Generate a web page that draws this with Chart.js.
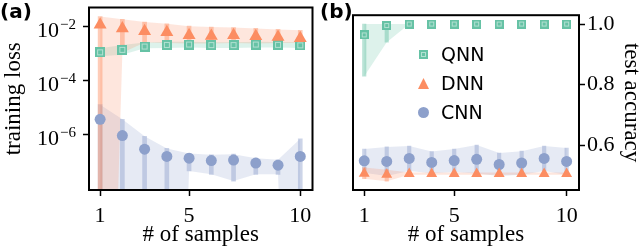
<!DOCTYPE html>
<html>
<head>
<meta charset="utf-8">
<script src="https://cdn.jsdelivr.net/npm/chart.js@4.4.1/dist/chart.umd.min.js"></script>
<style>
  body { margin: 0; background: #fff; }
  #wrap { position: relative; width: 640px; height: 249px; overflow: hidden; }
  canvas { position: absolute; top: 0; }
  #ca { left: 0; }
  #cb { left: 320px; }
  .tag { position: absolute; top: -1px; font: bold 20px "DejaVu Sans"; line-height: 24px; color: #000; }
  #legend { position: absolute; left: 413px; top: 40px; font: 19px "DejaVu Sans"; color: #000; }
  #legend div { height: 29px; line-height: 29px; position: relative; padding-left: 28px; }
  #legend canvas { position: absolute; left: 0; top: 4px; }
</style>
</head>
<body>
<div id="wrap">
  <canvas id="ca" width="320" height="249"></canvas>
  <canvas id="cb" width="320" height="249"></canvas>
  <div class="tag" style="left:0px">(a)</div>
  <div class="tag" style="left:320px">(b)</div>
  <div id="legend"></div>
</div>
<script>
// x positions and ticks
const samples = [1, 2, 3, 4, 5, 6, 7, 8, 9, 10];
const xTicks = [1, 5, 10];
const lossTicks = [1e-6, 1e-4, 1e-2];
const accTicks = [0.6, 0.8, 1.0];
const seriesNames = ['QNN', 'DNN', 'CNN'];

// (a) training loss, mean and band (1e-30 = band runs below the axis)
const qnnLoss     = [1.13e-3, 1.4e-3, 1.86e-3, 2.13e-3, 2.2e-3, 2.1e-3, 2.1e-3, 2.2e-3, 2.15e-3, 2.05e-3];
const qnnLossLow  = [8.1e-4, 9.3e-4, 1.6e-3, 1.65e-3, 1.7e-3, 1.65e-3, 1.65e-3, 1.7e-3, 1.7e-3, 1.65e-3];
const qnnLossHigh = [1.6e-3, 2.1e-3, 2.6e-3, 2.8e-3, 2.8e-3, 2.7e-3, 2.7e-3, 2.8e-3, 2.75e-3, 2.7e-3];

const dnnLoss     = [0.012, 0.0086, 0.0069, 0.0063, 0.0049, 0.0046, 0.0049, 0.0045, 0.0042, 0.0038];
const dnnLossLow  = [1e-30, 1.1e-3, 2.6e-3, 2.5e-3, 2.4e-3, 2.4e-3, 2.5e-3, 2.4e-3, 2.5e-3, 2.5e-3];
const dnnLossHigh = [0.024, 0.019, 0.015, 0.013, 0.0106, 0.0098, 0.0094, 0.0087, 0.0080, 0.0074];

const cnnLoss     = [3.7e-6, 9.3e-7, 2.9e-7, 1.56e-7, 1.35e-7, 1.1e-7, 1.15e-7, 8.9e-8, 7.4e-8, 1.56e-7];
const cnnLossLow  = [1e-30, 1e-30, 1e-30, 1e-30, 4.5e-8, 3.4e-8, 1.9e-8, 3.4e-8, 3.4e-8, 1e-30];
const cnnLossHigh = [1.3e-5, 3.7e-6, 8.7e-7, 3.1e-7, 2.0e-7, 1.8e-7, 1.9e-7, 1.35e-7, 1.17e-7, 7.1e-7];

// (b) test accuracy
const qnnAcc     = [0.964, 0.995, 1.0, 1.0, 1.0, 1.0, 1.0, 1.0, 1.0, 1.0];
const qnnAccLow  = [0.828, 0.94, 1.0, 1.0, 1.0, 1.0, 1.0, 1.0, 1.0, 1.0];
const qnnAccHigh = [1.0, 1.0, 1.0, 1.0, 1.0, 1.0, 1.0, 1.0, 1.0, 1.0];

const dnnAcc     = [0.507, 0.504, 0.506, 0.506, 0.506, 0.506, 0.506, 0.506, 0.506, 0.506];
const dnnAccLow  = [0.49, 0.482, 0.503, 0.503, 0.503, 0.503, 0.503, 0.503, 0.503, 0.503];
const dnnAccHigh = [0.527, 0.52, 0.511, 0.511, 0.511, 0.511, 0.511, 0.511, 0.511, 0.511];

const cnnAcc     = [0.549, 0.547, 0.557, 0.544, 0.550, 0.554, 0.537, 0.542, 0.557, 0.547];
const cnnAccLow  = [0.510, 0.499, 0.516, 0.508, 0.512, 0.507, 0.499, 0.503, 0.516, 0.503];
const cnnAccHigh = [0.588, 0.595, 0.598, 0.580, 0.588, 0.601, 0.575, 0.581, 0.598, 0.591];

const green = '#66c2a5', orange = '#fc8d62', blue = '#8da0cb';
const serif = 'Liberation Serif';

function rgba(hex, a) {
  const n = parseInt(hex.slice(1), 16);
  return `rgba(${n >> 16},${(n >> 8) & 255},${n & 255},${a})`;
}

// square marker with the faint inner square
function squareMarker(size) {
  const c = document.createElement('canvas');
  c.width = c.height = size;
  const g = c.getContext('2d');
  g.fillStyle = green;
  g.fillRect(0, 0, size, size);
  g.strokeStyle = 'rgba(255,255,255,0.5)';
  g.lineWidth = 1;
  g.strokeRect(2.5, 2.5, size - 5, size - 5);
  return c;
}

function shapeMarker(kind, size) {
  const c = document.createElement('canvas');
  c.width = c.height = size;
  const g = c.getContext('2d');
  if (kind === 'tri') {
    g.fillStyle = orange;
    g.beginPath(); g.moveTo(size / 2, 0); g.lineTo(size, size); g.lineTo(0, size); g.closePath(); g.fill();
  } else {
    g.fillStyle = blue;
    g.beginPath(); g.arc(size / 2, size / 2, size / 2, 0, Math.PI * 2); g.fill();
  }
  return c;
}

function series(color, mean, low, high, marker, radius, barW) {
  return [
    { type: 'line', data: samples.map((x, i) => ({ x, y: high[i] })), borderWidth: 0, pointRadius: 0, fill: false, order: 3, clip: 0 },
    { type: 'line', data: samples.map((x, i) => ({ x, y: low[i] })), borderWidth: 0, pointRadius: 0, fill: '-1',
      backgroundColor: rgba(color, 0.22), order: 3, clip: 0 },
    { type: 'bar', data: samples.map((x, i) => ({ x, y: [low[i], high[i]] })), backgroundColor: rgba(color, 0.45),
      barThickness: barW, grouped: false, order: 2, clip: 0 },
    { type: 'line', showLine: false, data: samples.map((x, i) => ({ x, y: mean[i] })), pointStyle: marker,
      pointRadius: radius, backgroundColor: color, borderWidth: 0, order: 1, clip: 10 }
  ];
}

const boxPlugin = {
  id: 'box',
  afterDraw(chart) {
    const { ctx, chartArea: a } = chart;
    ctx.save();
    ctx.strokeStyle = '#000';
    ctx.lineWidth = 2;
    ctx.strokeRect(a.left, a.top, a.right - a.left, a.bottom - a.top);
    ctx.restore();
  }
};

// power-of-ten labels with a real raised exponent
const powerLabels = {
  id: 'powerLabels',
  afterDraw(chart) {
    const { ctx } = chart;
    const s = chart.scales.y;
    ctx.save();
    ctx.fillStyle = '#000';
    ctx.textBaseline = 'alphabetic';
    ctx.textAlign = 'left';
    s.ticks.forEach(t => {
      const y = s.getPixelForValue(t.value);
      const exp = '\u2212' + String(Math.abs(Math.round(Math.log10(t.value))));
      ctx.font = `15px "${serif}"`;
      const ew = ctx.measureText(exp).width;
      const right = s.right - 13;
      ctx.fillText(exp, right - ew, y + 2);
      ctx.font = `22px "${serif}"`;
      const bw = ctx.measureText('10').width;
      ctx.fillText('10', right - ew - bw - 1, y + 10);
    });
    ctx.restore();
  }
};

function xScale() {
  return {
    type: 'linear', min: 0.5, max: 10.55, offset: false,
    afterBuildTicks: s => { s.ticks = xTicks.map(v => ({ value: v })); },
    grid: { offset: false, drawOnChartArea: false, drawTicks: true, tickLength: 6, tickWidth: 1.5, tickColor: '#000' },
    border: { display: false },
    ticks: { font: { family: serif, size: 22 }, color: '#000', padding: 7, maxRotation: 0, autoSkip: false },
    title: { display: true, text: '# of samples', font: { family: serif, size: 23 }, color: '#000', padding: { top: 0, bottom: 0 } },
    afterFit: s => { s.height = 59; }
  };
}

Chart.defaults.animation = false;

new Chart(document.getElementById('ca'), {
  type: 'line',
  data: {
    datasets: [
      ...series(orange, dnnLoss, dnnLossLow, dnnLossHigh, 'triangle', 7.5, 4),
      ...series(green, qnnLoss, qnnLossLow, qnnLossHigh, squareMarker(10), 5, 4),
      ...series(blue, cnnLoss, cnnLossLow, cnnLossHigh, 'circle', 5.5, 4)
    ]
  },
  options: {
    responsive: false,
    layout: { padding: { top: 3, right: 5, left: 0, bottom: 0 } },
    plugins: { legend: { display: false }, tooltip: { enabled: false } },
    scales: {
      x: xScale(),
      y: {
        type: 'logarithmic', min: 8.9e-9, max: 0.052,
        afterBuildTicks: s => { s.ticks = lossTicks.map(v => ({ value: v })); },
        grid: { offset: false, drawOnChartArea: false, drawTicks: true, tickLength: 6, tickWidth: 1.5, tickColor: '#000' },
        border: { display: false },
        ticks: { display: false },
        title: { display: true, text: 'training loss', font: { family: serif, size: 23 }, color: '#000', padding: { top: 0, bottom: 0 } },
        afterFit: s => { s.width = 89; }
      }
    }
  },
  plugins: [boxPlugin, powerLabels]
});

new Chart(document.getElementById('cb'), {
  type: 'line',
  data: {
    datasets: [
      ...series(orange, dnnAcc, dnnAccLow, dnnAccHigh, 'triangle', 6.3, 3.5),
      ...series(blue, cnnAcc, cnnAccLow, cnnAccHigh, 'circle', 5.5, 3.5),
      ...series(green, qnnAcc, qnnAccLow, qnnAccHigh, squareMarker(9), 5, 3.5)
    ]
  },
  options: {
    responsive: false,
    layout: { padding: { top: 3, right: 0, left: 33, bottom: 0 } },
    plugins: { legend: { display: false }, tooltip: { enabled: false } },
    scales: {
      x: xScale(),
      y: {
        type: 'linear', position: 'right', min: 0.453, max: 1.029,
        afterBuildTicks: s => { s.ticks = accTicks.map(v => ({ value: v })); },
        grid: { offset: false, drawOnChartArea: false, drawTicks: true, tickLength: 6, tickWidth: 1.5, tickColor: '#000' },
        border: { display: false },
        ticks: { font: { family: serif, size: 22 }, color: '#000', padding: 2, callback: v => v.toFixed(1) },
        title: { display: true, text: 'test accuracy', font: { family: serif, size: 23 }, color: '#000', padding: { top: -5, bottom: 0 } },
        afterFit: s => { s.width = 61; }
      }
    }
  },
  plugins: [boxPlugin]
});

// legend inside panel (b)
const legendMarkers = [squareMarker(9), shapeMarker('tri', 11), shapeMarker('dot', 11)];
const legend = document.getElementById('legend');
seriesNames.forEach((name, i) => {
  const row = document.createElement('div');
  const m = legendMarkers[i];
  m.style.top = (14.5 - m.height / 2) + 'px';
  m.style.left = (10 - m.width / 2) + 'px';
  row.appendChild(m);
  row.appendChild(document.createTextNode(name));
  legend.appendChild(row);
});
</script>
</body>
</html>
